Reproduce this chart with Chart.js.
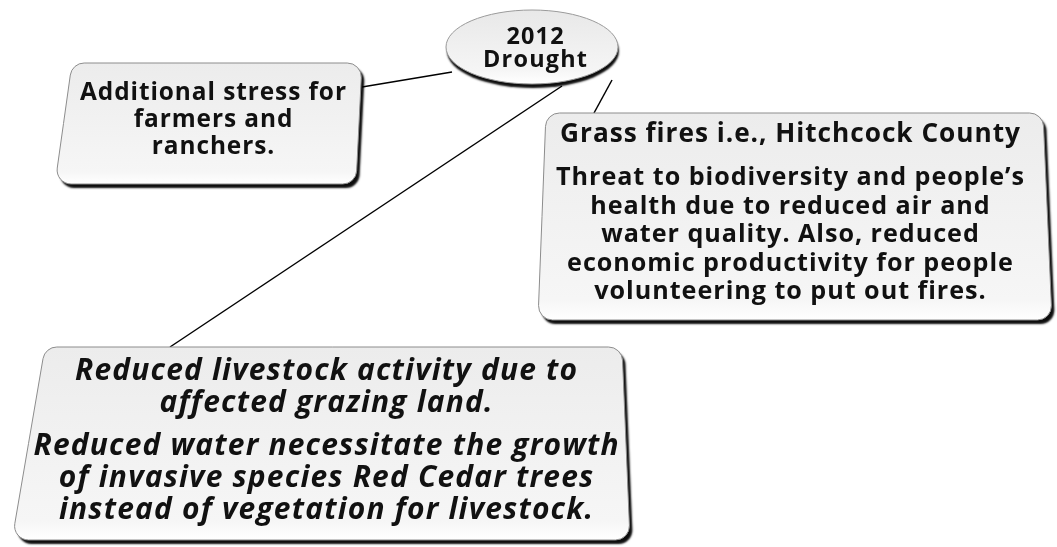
<!DOCTYPE html>
<html>
<head>
<meta charset="utf-8">
<script src="https://cdn.jsdelivr.net/npm/chart.js@4"></script>
<style>
  html, body { margin: 0; padding: 0; background: #fff; }
  #wrap { width: 1057px; height: 547px; }
</style>
</head>
<body>
<div id="wrap"><canvas id="diagram" width="1057" height="547"></canvas></div>
<script>
// node ids and the text in each node (paragraphs -> lines)
const nodeIds = ['drought', 'stress', 'fires', 'livestock'];
const nodeText = [
  [['2012', 'Drought']],
  [['Additional stress for', 'farmers and', 'ranchers.']],
  [['Grass fires i.e., Hitchcock County'],
   ['Threat to biodiversity and people\u2019s', 'health due to reduced air and', 'water quality. Also, reduced', 'economic productivity for people', 'volunteering to put out fires.']],
  [['Reduced livestock activity due to', 'affected grazing land.'],
   ['Reduced water necessitate the growth', 'of invasive species Red Cedar trees', 'instead of vegetation for livestock.']]
];
// connections: [from, to]
const links = [['drought', 'stress'], ['drought', 'fires'], ['drought', 'livestock']];

// ---- layout (value space of the scales, 0..1057 x 0..547) ----
const shapes = {
  drought: { kind: 'ellipse', cx: 532, cy: 47, rx: 86, ry: 37 },
  stress: { kind: 'box', tl: [72, 63], tr: [362, 63], br: [356, 184], bl: [55, 184] },
  fires: { kind: 'box', tl: [546, 113], tr: [1043, 113], br: [1052, 320], bl: [538, 320] },
  livestock: { kind: 'box', tl: [45, 347], tr: [622, 347], br: [630, 540], bl: [12, 540] }
};
const anchors = {
  'drought-stress': [[452, 72], [362, 87]],
  'drought-fires': [[612, 80], [594, 113]],
  'drought-livestock': [[562, 86], [170, 347]]
};
// each paragraph: font, line height, first line centre y, width of the widest line
const textStyle = {
  drought: [{ font: 'bold', lh: 23, top: 37, width: 104, fit: 1 }],
  stress: [{ font: 'bold', lh: 27, top: 93, width: 266, fit: 0 }],
  fires: [
    { font: 'bold', lh: 28, top: 135, width: 460, fit: 0 },
    { font: 'bold', lh: 28.5, top: 178, width: 468, fit: 0 }
  ],
  livestock: [
    { font: 'italic bold', lh: 32, top: 371, width: 585, fit: 0, ref: 1 },
    { font: 'italic bold', lh: 32, top: 446, width: 585, fit: 0 }
  ]
};
const fontFamily = '"Open Sans"';
const shrink = 0.93; // glyphs a bit smaller than a tight fit, the rest goes to letter spacing
const centerX = { drought: 535, stress: 213, fires: 790, livestock: 326 };

function roundedQuad(ctx, pts, r) {
  ctx.beginPath();
  const n = pts.length;
  const mid = (a, b) => [(a[0] + b[0]) / 2, (a[1] + b[1]) / 2];
  const start = mid(pts[n - 1], pts[0]);
  ctx.moveTo(start[0], start[1]);
  for (let i = 0; i < n; i++) {
    const p = pts[i], q = pts[(i + 1) % n];
    ctx.arcTo(p[0], p[1], q[0], q[1], r);
  }
  ctx.closePath();
}

const nodePlugin = {
  id: 'nodes',
  afterDatasetsDraw(chart) {
    const ctx = chart.ctx;
    const xs = chart.scales.x, ys = chart.scales.y;
    const px = p => [xs.getPixelForValue(p[0]), ys.getPixelForValue(p[1])];

    nodeIds.forEach((id, i) => {
      const s = shapes[id];
      ctx.save();
      if (s.kind === 'ellipse') {
        const c = px([s.cx, s.cy]);
        const rx = Math.abs(xs.getPixelForValue(s.cx + s.rx) - c[0]);
        const ry = Math.abs(ys.getPixelForValue(s.cy + s.ry) - c[1]);
        ctx.beginPath();
        ctx.ellipse(c[0], c[1], rx, ry, 0, 0, Math.PI * 2);
        ctx.shadowColor = 'rgba(0,0,0,0.95)';
        ctx.shadowOffsetX = 1;
        ctx.shadowOffsetY = 4;
        ctx.shadowBlur = 2;
        const g = ctx.createLinearGradient(0, c[1] - ry, 0, c[1] + ry);
        g.addColorStop(0, '#e8e8e8');
        g.addColorStop(0.8, '#f5f5f5');
        g.addColorStop(1, '#ffffff');
        ctx.fillStyle = g;
        ctx.fill();
        ctx.shadowColor = 'transparent';
        ctx.strokeStyle = '#9a9a9a';
        ctx.lineWidth = 1;
        ctx.stroke();
      } else {
        const pts = [s.tl, s.tr, s.br, s.bl].map(px);
        roundedQuad(ctx, pts, 14);
        ctx.shadowColor = 'rgba(0,0,0,0.95)';
        ctx.shadowOffsetX = 3;
        ctx.shadowOffsetY = 4;
        ctx.shadowBlur = 2;
        const g = ctx.createLinearGradient(0, pts[0][1], 0, pts[2][1]);
        g.addColorStop(0, '#ececec');
        g.addColorStop(0.9, '#f6f6f6');
        g.addColorStop(1, '#ffffff');
        ctx.fillStyle = g;
        ctx.fill();
        ctx.shadowColor = 'transparent';
        ctx.strokeStyle = '#8c8c8c';
        ctx.lineWidth = 1;
        ctx.stroke();
      }
      ctx.restore();

      // text sized to the widest line of the original, then slightly opened up
      ctx.save();
      ctx.fillStyle = '#111';
      ctx.textAlign = 'center';
      ctx.textBaseline = 'middle';
      ctx.letterSpacing = '0px';
      const cx = xs.getPixelForValue(centerX[id]);
      const styles = textStyle[id];
      const fits = styles.map((st, k) => {
        const line = nodeText[i][k][st.fit];
        ctx.font = st.font + ' 100px ' + fontFamily;
        const size = 100 * st.width / ctx.measureText(line).width * shrink;
        ctx.font = st.font + ' ' + size.toFixed(2) + 'px ' + fontFamily;
        const w = ctx.measureText(line).width;
        return { size, spacing: Math.max(0, (st.width - w) / (line.length - 1)) };
      });
      styles.forEach((st, k) => { if (st.ref !== undefined) fits[k] = fits[st.ref]; });
      nodeText[i].forEach((para, k) => {
        const st = styles[k], f = fits[k];
        ctx.font = st.font + ' ' + f.size.toFixed(2) + 'px ' + fontFamily;
        ctx.letterSpacing = f.spacing.toFixed(2) + 'px';
        para.forEach((line, j) => {
          // letterSpacing adds trailing space after the last glyph; shift to stay centred
          ctx.fillText(line, cx + f.spacing / 2, ys.getPixelForValue(st.top + j * st.lh));
        });
      });
      ctx.restore();
    });
  }
};

const linkSets = links.map(([a, b]) => ({
  label: a + '-' + b,
  data: anchors[a + '-' + b].map(p => ({ x: p[0], y: p[1] })),
  showLine: true,
  borderColor: '#000',
  borderWidth: 1.5,
  pointRadius: 0,
  fill: false
}));

new Chart(document.getElementById('diagram').getContext('2d'), {
  type: 'scatter',
  data: { datasets: linkSets },
  options: {
    responsive: false,
    animation: false,
    layout: { padding: 0 },
    plugins: { legend: { display: false }, tooltip: { enabled: false } },
    scales: {
      x: { type: 'linear', min: 0, max: 1057, display: false },
      y: { type: 'linear', min: 0, max: 547, reverse: true, display: false }
    }
  },
  plugins: [nodePlugin]
});
</script>
</body>
</html>
